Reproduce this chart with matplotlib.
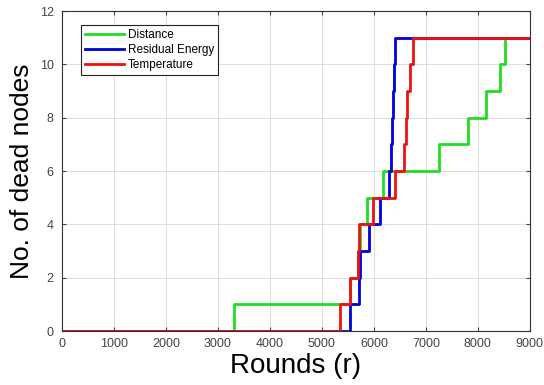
import matplotlib
matplotlib.use("Agg")
import matplotlib.pyplot as plt

plt.rcParams["font.family"] = ["Liberation Sans", "DejaVu Sans"]

# rounds at which the dead-node count steps up by one (counts 1..11)
distance_steps = [3300, 5545, 5700, 5730, 5860, 6180, 7260, 7810, 8160, 8420, 8520]
energy_steps = [5539, 5706, 5725, 5900, 6117, 6297, 6330, 6345, 6365, 6385, 6406]
temp_steps = [5353, 5545, 5690, 5720, 5980, 6400, 6570, 6610, 6630, 6690, 6760]

x_max = 9000
x_ticks = list(range(0, 9001, 1000))
y_ticks = list(range(0, 13, 2))


def step_xy(steps):
    xs = [0] + steps + [x_max]
    ys = list(range(len(steps) + 1)) + [len(steps)]
    return xs, ys


fig = plt.figure(figsize=(5.44, 3.85), dpi=100)
ax = fig.add_axes([0.114, 0.140, 0.860, 0.831])

series = [
    ("Distance", distance_steps, "#22dd22"),
    ("Residual Energy", energy_steps, "#0000dd"),
    ("Temperature", temp_steps, "#ee1111"),
]
for label, steps, color in series:
    xs, ys = step_xy(steps)
    ax.step(xs, ys, where="post", color=color, lw=2.0, label=label)

ax.set_xlim(0, x_max)
ax.set_ylim(0, 12)
ax.set_xticks(x_ticks)
ax.set_yticks(y_ticks)
ax.grid(True, color="#dcdcdc", lw=0.7)
ax.set_axisbelow(True)
ax.tick_params(direction="in", top=True, right=True, labelsize=9,
               colors="#444444", length=3)
ax.tick_params(axis="x", pad=5)
ax.tick_params(axis="y", pad=6)
for s in ax.spines.values():
    s.set_color("#333333")
    s.set_linewidth(0.8)

ax.set_xlabel("Rounds (r)", fontsize=20, labelpad=2)
ax.set_ylabel("No. of dead nodes", fontsize=19, labelpad=4)

leg = ax.legend(loc="upper left", bbox_to_anchor=(0.028, 0.975), fontsize=8.5,
                handlelength=3.3, handletextpad=0.3, borderpad=0.35,
                labelspacing=0.25, fancybox=False, framealpha=1)
leg.get_frame().set_edgecolor("#222222")
leg.get_frame().set_linewidth(0.8)

plt.savefig("out.png")
